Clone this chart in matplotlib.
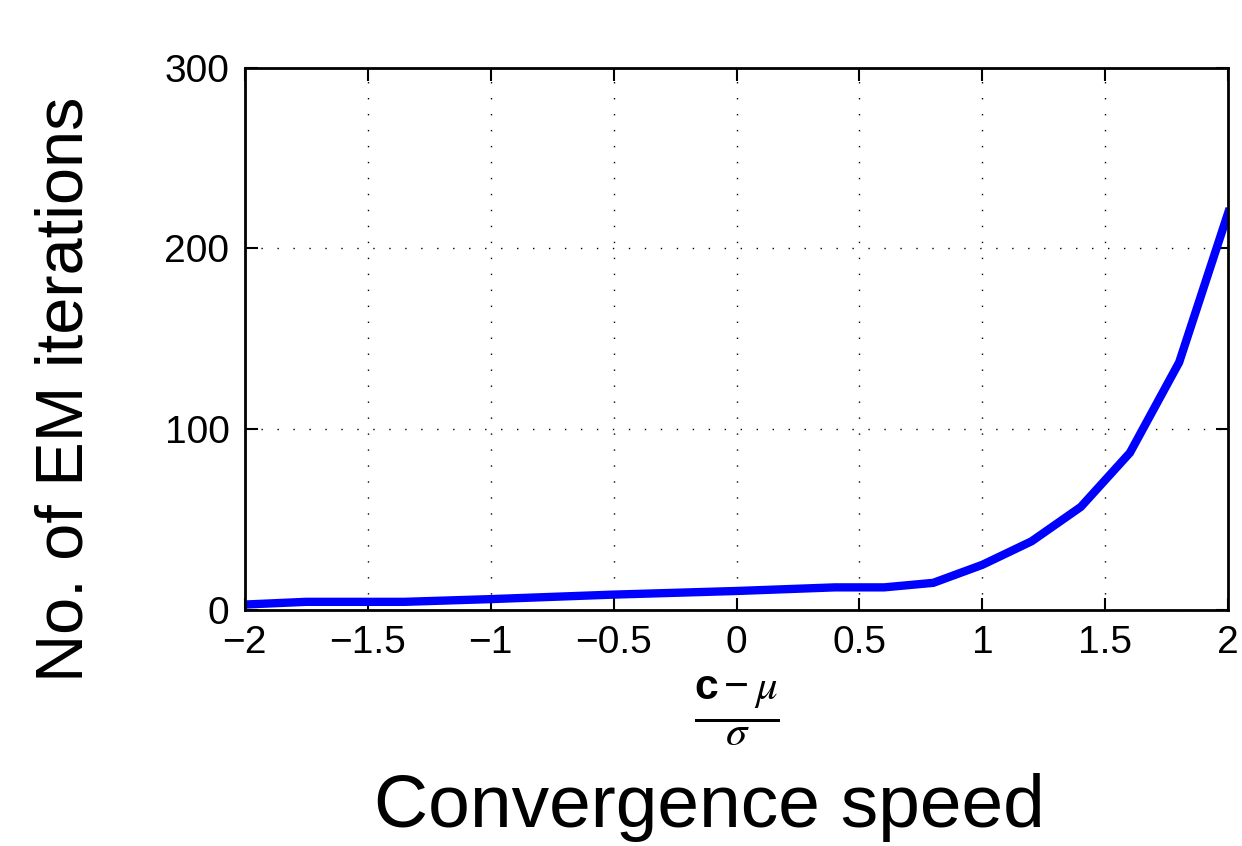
import matplotlib
matplotlib.use("Agg")
import matplotlib.pyplot as plt

plt.rcParams['font.family'] = ['Liberation Sans', 'DejaVu Sans']
plt.rcParams['mathtext.fontset'] = 'custom'
plt.rcParams['mathtext.bf'] = 'Liberation Sans:bold'
plt.rcParams['mathtext.it'] = 'STIXGeneral:italic'
plt.rcParams['mathtext.rm'] = 'Liberation Sans'

# normalised threshold (c - mu) / sigma and EM iteration counts
z = [-2.0, -1.75, -1.35, -1.0, -0.5, 0.0, 0.4, 0.6, 0.8, 1.0, 1.2, 1.4, 1.6, 1.8, 2.0]
iterations = [3, 4.5, 4.5, 6, 8.5, 10.5, 12.5, 12.5, 15, 25, 38, 57, 87, 137, 220]

x_ticks = [-2, -1.5, -1, -0.5, 0, 0.5, 1, 1.5, 2]
x_ticklabels = ['\u22122', '\u22121.5', '\u22121', '\u22120.5', '0', '0.5', '1', '1.5', '2']
y_ticks = [0, 100, 200, 300]

fig = plt.figure(figsize=(12.42, 8.46), dpi=100)
ax = fig.add_axes([0.197, 0.279, 0.792, 0.641])

ax.plot(z, iterations, color='#0000ff', linewidth=6, solid_joinstyle='miter')

ax.set_xlim(-2, 2)
ax.set_ylim(0, 300)
ax.set_xticks(x_ticks)
ax.set_yticks(y_ticks)
ax.set_xticklabels(x_ticklabels)
ax.tick_params(direction='in', top=True, right=True, length=9, width=1.5,
               labelsize=28, pad=11)
ax.grid(True, linestyle=(0, (1, 10.5)), color='black', linewidth=1)
for s in ax.spines.values():
    s.set_linewidth(2)

ax.set_xlabel(r'$\frac{\mathbf{c}-\mu}{\sigma}$', fontsize=44, labelpad=10)
fig.text(0.053, 0.54, 'No. of EM iterations', fontsize=48, rotation=90,
         ha='center', va='center')
fig.text(0.571, 0.022, 'Convergence speed', fontsize=54, ha='center', va='baseline')

fig.savefig('out.png', dpi=100)
